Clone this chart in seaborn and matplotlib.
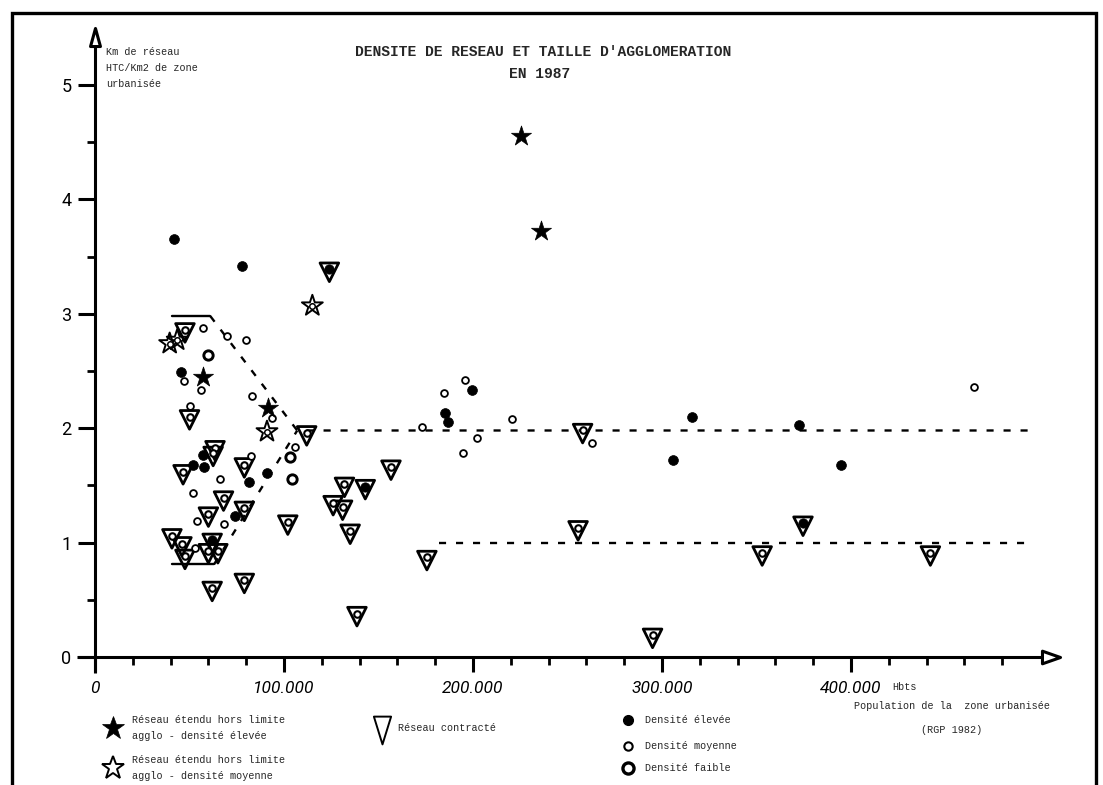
import matplotlib
matplotlib.use("Agg")
import numpy as np
import pandas as pd
import matplotlib.pyplot as plt
import seaborn as sns
from matplotlib.path import Path
from matplotlib.patches import Rectangle
from matplotlib.lines import Line2D

sns.set_theme(style="white")
plt.rcParams["font.family"] = ["DejaVu Sans"]

# ------------------------------------------------------------------ texts
title_lines = ["DENSITE DE RESEAU ET TAILLE D'AGGLOMERATION", "EN 1987"]
y_label = "Km de réseau\nHTC/Km2 de zone\nurbanisée"
x_unit = "Hbts"
x_caption = "Population de la  zone urbanisée"
x_source = "(RGP 1982)"
legend_star_high = "Réseau étendu hors limite\nagglo - densité élevée"
legend_star_mid = "Réseau étendu hors limite\nagglo - densité moyenne"
legend_triangle = "Réseau contracté"
legend_high = "Densité élevée"
legend_mid = "Densité moyenne"
legend_low = "Densité faible"

# ------------------------------------------------------------------ ticks
x_major = [0, 100000, 200000, 300000, 400000]
x_major_labels = ["0", "100.000", "200.000", "300.000", "400.000"]
x_minor = [20000, 40000, 60000, 80000, 120000, 140000, 160000, 180000,
           220000, 240000, 260000, 280000, 320000, 340000, 360000, 380000,
           420000, 440000, 460000, 480000]
y_major = [0, 1, 2, 3, 4, 5]
y_major_labels = ["0", "1", "2", "3", "4", "5"]
y_minor = [0.5, 1.5, 2.5, 3.5, 4.5]

# ------------------------------------------------------------------ data
# Réseau étendu hors limite agglo - densité élevée (filled stars)
star_high_pop = [57000, 91500, 225400, 236000]
star_high_dens = [2.45, 2.18, 4.55, 3.72]

# Réseau étendu hors limite agglo - densité moyenne (open stars)
star_mid_pop = [39500, 43500, 91000, 115000]
star_mid_dens = [2.74, 2.77, 1.97, 3.07]

# Réseau contracté (triangles) with density class inside
tri_pop = [47600, 50000, 112000, 124000, 63500, 62500, 46600, 79000, 68000,
           79000, 60000, 102000, 40700, 46000, 47600, 62000, 60000, 65000,
           62000, 79000, 132000, 143000, 126000, 131000, 135000, 138600,
           156600, 175600, 258000, 255600, 295000, 374600, 353000, 442000]
tri_dens = [2.86, 2.10, 1.96, 3.39, 1.83, 1.78, 1.62, 1.68, 1.39,
            1.30, 1.25, 1.18, 1.06, 0.99, 0.88, 1.02, 0.93, 0.93,
            0.60, 0.67, 1.51, 1.49, 1.35, 1.31, 1.10, 0.38,
            1.66, 0.87, 1.98, 1.13, 0.19, 1.17, 0.91, 0.91]
tri_class = ["o", "o", "o", "dot", "o", "o", "o", "o", "o",
             "o", "o", "o", "o", "o", "o", "dot", "o", "o",
             "o", "o", "o", "dot", "o", "o", "o", "o",
             "o", "o", "o", "o", "o", "dot", "o", "o"]

# Densité élevée (filled circles)
high_pop = [42000, 78000, 45500, 57000, 52000, 57500, 91000, 81500, 74000,
            185000, 187000, 199500, 316000, 306000, 372500, 394700]
high_dens = [3.65, 3.42, 2.49, 1.77, 1.68, 1.66, 1.61, 1.53, 1.23,
             2.13, 2.05, 2.33, 2.10, 1.72, 2.03, 1.68]

# Densité moyenne (small open circles)
mid_pop = [57000, 70000, 80000, 47000, 56000, 83000, 93600, 106000, 82500,
           66000, 52000, 54000, 68000, 53000, 50000, 184500, 196000, 173000,
           220600, 202000, 194700, 263000, 465000]
mid_dens = [2.88, 2.81, 2.77, 2.41, 2.33, 2.28, 2.09, 1.84, 1.76,
            1.56, 1.43, 1.19, 1.16, 0.95, 2.19, 2.31, 2.42, 2.01,
            2.08, 1.91, 1.78, 1.87, 2.36]

# Densité faible (bold open circles)
low_pop = [60000, 103000, 104000]
low_dens = [2.64, 1.75, 1.56]

# Envelope lines
upper_solid_pop = [41000, 61000]
upper_solid_dens = [2.98, 2.98]
upper_dash_pop = [61000, 107000, 497000]
upper_dash_dens = [2.98, 1.98, 1.98]
lower_solid_pop = [41000, 63000]
lower_solid_dens = [0.81, 0.81]
lower_dash_pop = [63000, 107000]
lower_dash_dens = [0.81, 1.98]
floor_pop = [182000, 497000]
floor_dens = [1.0, 1.0]

# ------------------------------------------------------------------ figure
W, H = 1103, 785
fig = plt.figure(figsize=(W / 100, H / 100), dpi=100)
fig.patch.set_facecolor("white")

X0_PX, PX_PER_X = 95.0, 189.0 / 100000
Y0_PX, PX_PER_Y = 657.0, 114.4
xlim = (-15000, 515000)
ylim = (-0.3, 5.5)
left = X0_PX + xlim[0] * PX_PER_X
right = X0_PX + xlim[1] * PX_PER_X
top = Y0_PX - ylim[1] * PX_PER_Y
bottom = Y0_PX - ylim[0] * PX_PER_Y
ax = fig.add_axes([left / W, 1 - bottom / H, (right - left) / W, (bottom - top) / H])
ax.set_xlim(xlim)
ax.set_ylim(ylim)
ax.set_facecolor("none")


def fpx(x, y):
    return x / W, 1 - y / H


# axes lines
for s in ["top", "right"]:
    ax.spines[s].set_visible(False)
ax.spines["left"].set_position(("data", 0))
ax.spines["bottom"].set_position(("data", 0))
ax.spines["left"].set_bounds(-0.14, 5.33)
ax.spines["bottom"].set_bounds(-9500, 502000)
for s in ["left", "bottom"]:
    ax.spines[s].set_linewidth(2.2)
    ax.spines[s].set_color("black")
    ax.spines[s].set_capstyle("butt")

ax.set_xticks(x_major)
ax.set_xticklabels(x_major_labels)
ax.set_xticks(x_minor, minor=True)
ax.set_yticks(y_major)
ax.set_yticklabels(y_major_labels)
ax.set_yticks(y_minor, minor=True)
ax.tick_params(bottom=True, left=True, which="both", color="black")
ax.tick_params(axis="x", which="major", direction="out", length=11, width=2.2,
               pad=6, labelsize=12.5, labelcolor="black")
ax.tick_params(axis="x", which="minor", direction="out", length=5.5, width=2)
ax.tick_params(axis="y", which="major", direction="out", length=12, width=2.2,
               pad=5, labelsize=13, labelcolor="black")
ax.tick_params(axis="y", which="minor", direction="out", length=6, width=2)
for lab in ax.get_xticklabels():
    lab.set_fontfamily(["Roboto", "DejaVu Sans"])
    lab.set_fontstyle("italic")
for lab in ax.get_yticklabels():
    lab.set_fontfamily(["Roboto", "DejaVu Sans"])

# arrow heads
up_arrow = Path([(-0.55, -1), (0.55, -1), (0, 1), (-0.55, -1)],
                [Path.MOVETO, Path.LINETO, Path.LINETO, Path.CLOSEPOLY])
right_arrow = Path([(-1, -0.7), (-1, 0.7), (1, 0), (-1, -0.7)],
                   [Path.MOVETO, Path.LINETO, Path.LINETO, Path.CLOSEPOLY])
ax.plot([0], [5.42], marker=up_arrow, ms=13, mfc="white", mec="black",
        mew=2.2, clip_on=False, zorder=6)
ax.plot([506000], [0], marker=right_arrow, ms=13, mfc="white", mec="black",
        mew=2.2, clip_on=False, zorder=6)

# envelope lines
dash = (0, (3.0, 4.2))
for xs, ys, ls in [(upper_solid_pop, upper_solid_dens, "-"),
                   (lower_solid_pop, lower_solid_dens, "-"),
                   (upper_dash_pop, upper_dash_dens, dash),
                   (lower_dash_pop, lower_dash_dens, dash),
                   (floor_pop, floor_dens, dash)]:
    sns.lineplot(x=xs, y=ys, ax=ax, color="black", lw=1.7, linestyle=ls,
                 estimator=None, sort=False, errorbar=None, zorder=2)

# markers
tri_marker = Path([(-0.75, 0.5), (0.75, 0.5), (0, -1), (-0.75, 0.5)],
                  [Path.MOVETO, Path.LINETO, Path.LINETO, Path.CLOSEPOLY])

tri_df = pd.DataFrame({"pop": tri_pop, "dens": tri_dens, "cls": tri_class})
sns.scatterplot(data=tri_df, x="pop", y="dens", ax=ax, marker=tri_marker, s=320,
                facecolor="none", edgecolor="black", linewidth=2.0,
                legend=False, zorder=4)
sub = tri_df[tri_df["cls"] == "o"]
sns.scatterplot(data=sub, x="pop", y="dens", ax=ax, marker="o", s=22,
                facecolor="white", edgecolor="black", linewidth=1.5,
                legend=False, zorder=5)
sub = tri_df[tri_df["cls"] == "dot"]
sns.scatterplot(data=sub, x="pop", y="dens", ax=ax, marker="o", s=45,
                color="black", edgecolor="black", linewidth=0.5,
                legend=False, zorder=5)

sns.scatterplot(x=high_pop, y=high_dens, ax=ax, marker="o", s=50,
                color="black", edgecolor="black", linewidth=0.5,
                legend=False, zorder=5)
sns.scatterplot(x=mid_pop, y=mid_dens, ax=ax, marker="o", s=24,
                facecolor="white", edgecolor="black", linewidth=1.3,
                legend=False, zorder=5)
sns.scatterplot(x=low_pop, y=low_dens, ax=ax, marker="o", s=45,
                facecolor="white", edgecolor="black", linewidth=2.1,
                legend=False, zorder=5)

sns.scatterplot(x=star_high_pop, y=star_high_dens, ax=ax, marker="*", s=230,
                color="black", edgecolor="black", linewidth=0.5,
                legend=False, zorder=5)
sns.scatterplot(x=star_mid_pop, y=star_mid_dens, ax=ax, marker="*", s=250,
                facecolor="none", edgecolor="black", linewidth=1.4,
                legend=False, zorder=5)
sns.scatterplot(x=star_mid_pop, y=star_mid_dens, ax=ax, marker="o", s=16,
                facecolor="white", edgecolor="black", linewidth=1.1,
                legend=False, zorder=6)

ax.set_xlabel("")
ax.set_ylabel("")

# ------------------------------------------------------------------ texts
mono = ["Liberation Mono", "DejaVu Sans Mono"]
fig.text(*fpx(543, 52), title_lines[0], ha="center", va="center",
         family=mono, weight="bold", size=10.5)
fig.text(*fpx(540, 74), title_lines[1], ha="center", va="center",
         family=mono, weight="bold", size=10.5)
fig.text(*fpx(106, 47), y_label, ha="left", va="top", family=mono,
         size=7.3, linespacing=1.75)
fig.text(*fpx(892, 687), x_unit, ha="left", va="center", family=mono, size=7.3)
fig.text(*fpx(952, 706), x_caption, ha="center", va="center", family=mono, size=7.3)
fig.text(*fpx(952, 730), x_source, ha="center", va="center", family=mono, size=7.3)

# legend keys
def key(x, y, **kw):
    fig.add_artist(Line2D([x / W], [1 - y / H], transform=fig.transFigure,
                          linestyle="none", **kw))

key(113, 728, marker="*", ms=17, mfc="black", mec="black", mew=0.5)
key(113, 768, marker="*", ms=17, mfc="none", mec="black", mew=1.4)
legend_tri = Path([(-0.62, 1), (0.62, 1), (0, -1), (-0.62, 1)],
                  [Path.MOVETO, Path.LINETO, Path.LINETO, Path.CLOSEPOLY])
key(382, 730, marker=legend_tri, ms=20, mfc="none", mec="black", mew=1.4)
key(628, 720, marker="o", ms=7, mfc="black", mec="black")
key(628, 746, marker="o", ms=6, mfc="white", mec="black", mew=1.5)
key(628, 768, marker="o", ms=8, mfc="white", mec="black", mew=2.4)

fig.text(*fpx(132, 728), legend_star_high, ha="left", va="center", family=mono,
         size=7.3, linespacing=1.75)
fig.text(*fpx(132, 768), legend_star_mid, ha="left", va="center", family=mono,
         size=7.3, linespacing=1.75)
fig.text(*fpx(398, 728), legend_triangle, ha="left", va="center", family=mono, size=7.3)
fig.text(*fpx(645, 720), legend_high, ha="left", va="center", family=mono, size=7.3)
fig.text(*fpx(645, 746), legend_mid, ha="left", va="center", family=mono, size=7.3)
fig.text(*fpx(645, 768), legend_low, ha="left", va="center", family=mono, size=7.3)

# page frame
fig.add_artist(Rectangle(fpx(12, 800), (1096 - 12) / W, (800 - 13) / H,
                         transform=fig.transFigure, fill=False,
                         edgecolor="black", linewidth=2.4))

fig.savefig("out.png", dpi=100, facecolor="white")
